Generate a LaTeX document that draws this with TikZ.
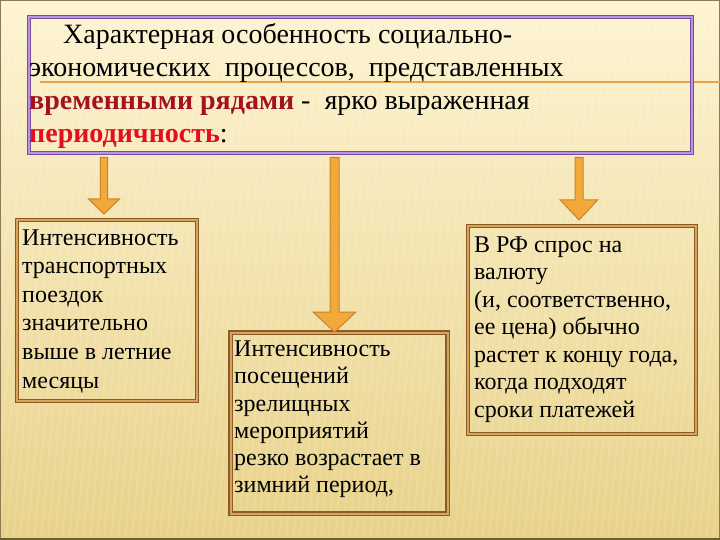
\documentclass[tikz,border=0pt]{standalone}
\usepackage{fontspec}
\setmainfont{Liberation Serif}
\usetikzlibrary{calc}
\definecolor{bgtop}{HTML}{FEF4D3}
\definecolor{bgbot}{HTML}{E8D28A}
\definecolor{purpleout}{HTML}{7B4AA8}
\definecolor{purplein}{HTML}{B896DA}
\definecolor{brownout}{HTML}{8C5A28}
\definecolor{brownin}{HTML}{D8A458}
\definecolor{arrfill}{HTML}{F2A93A}
\definecolor{arrdraw}{HTML}{C4852A}
\definecolor{darkred}{HTML}{A3121E}
\definecolor{brightred}{HTML}{E3101C}
\definecolor{lineor}{HTML}{EFA245}
\definecolor{framecol}{HTML}{8D7B55}
\definecolor{framebot}{HTML}{6E5F30}
\newcommand{\fatarrow}[5]{% #1 source node, #2 tip coordinate, #3 shaft half width, #4 head half width, #5 head length
  \draw[fatarr] let \p1=(#1.south), \p2=(#2) in
   (\x2-#3pt,\y1-3.5pt) -- (\x2-#3pt,\y2+#5pt) -- (\x2-#4pt,\y2+#5pt) -- (\x2,\y2)
   -- (\x2+#4pt,\y2+#5pt) -- (\x2+#3pt,\y2+#5pt) -- (\x2+#3pt,\y1-3.5pt) -- cycle;}
\begin{document}
\begin{tikzpicture}[x=1pt,y=-1pt,
  topbox/.style={draw=purpleout, double=purplein, line width=1.3pt, double distance=1.8pt, inner sep=0pt, anchor=north west},
  subbox/.style={draw=brownout, double=brownin, line width=1.2pt, double distance=2pt, inner sep=0pt, anchor=north west},
  fatarr/.style={fill=arrfill, draw=arrdraw, line width=1pt, line join=miter},
  ttxt/.style={anchor=base west, inner sep=0pt, font=\fontsize{28}{33}\selectfont},
  btxt/.style={anchor=base west, inner sep=0pt, font=\fontsize{24}{28}\selectfont}]
\useasboundingbox (0,0) rectangle (720,540);
% background
\shade[top color=bgtop, bottom color=bgbot] (0,0) rectangle (720,540);
\begin{scope}
\clip (0,0) rectangle (720,540);
\foreach \k in {0,7,...,800}
  \draw[white, opacity=0.13, line width=1.6pt] (\k,0) -- (\k-50,540);
\end{scope}
\draw[framecol, line width=1pt] (0.5,0.5) rectangle (719.5,539.5);
\draw[framebot, line width=2pt] (0,539) -- (720,539);
% orange rule
\draw[lineor, line width=1.3pt] (40,82) -- (720,82);
% boxes
\node[topbox, minimum width=663pt, minimum height=136pt] (top) at (28.5,16.5) {};
\node[subbox, minimum width=180pt, minimum height=181pt] (lb) at (16.5,219.5) {};
\node[subbox, minimum width=217pt, minimum height=181pt] (mb) at (230,332) {};
\node[subbox, minimum width=228pt, minimum height=208pt] (rb) at (467.5,225.5) {};
% header text
\node[ttxt] (t1) at (63,44) {Характерная особенность социально-};
\node[ttxt] (t2) at (29,77) {экономических\ \ процессов,\ \ представленных};
\node[ttxt] (t3) at (29,110) {{\bfseries\color{darkred}временными рядами} -\ \ ярко выраженная};
\node[ttxt] (t4) at (29,143) {{\bfseries\color{brightred}периодичность}:};
% box texts
\foreach \s [count=\i from 0] in {Интенсивность, транспортных, поездок, значительно, {выше в летние}, месяцы}
  \node[btxt] (l\i) at (22,{245+28.6*\i}) {\s};
\foreach \s [count=\i from 0] in {Интенсивность, посещений, зрелищных, мероприятий, {резко возрастает в}, {зимний период,}}
  \node[btxt] (m\i) at (234,{356.7+27.2*\i}) {\s};
\foreach \s [count=\i from 0] in {{В РФ спрос на}, валюту, {(и, соответственно,}, {ее цена) обычно}, {растет к концу года,}, {когда подходят}, {сроки платежей}}
  \node[btxt] (r\i) at (474,{252+27.5*\i}) {\s};
% arrows
\coordinate (a1) at (104,214);
\coordinate (a2) at (334.5,332);
\coordinate (a3) at (579,220);
\fatarrow{top}{a1}{3.6}{15.5}{15}
\fatarrow{top}{a2}{4.5}{21.5}{20}
\fatarrow{top}{a3}{4}{18.7}{20}
\end{tikzpicture}
\end{document}
